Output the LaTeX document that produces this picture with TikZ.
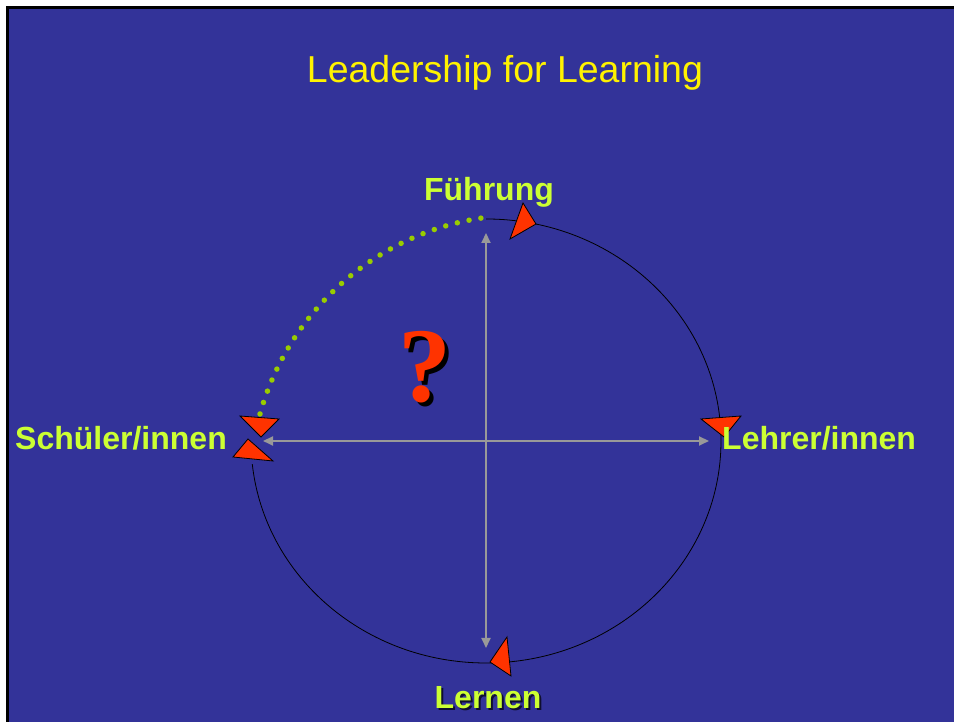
\documentclass[tikz,border=0pt]{standalone}
\usepackage{fontspec}
\setmainfont{Liberation Sans}
\newfontfamily\serifq{Liberation Serif}
\usetikzlibrary{arrows.meta}
\definecolor{slideblue}{HTML}{333399}
\definecolor{labelgreen}{HTML}{CCFF33}
\definecolor{dotgreen}{HTML}{99CC00}
\definecolor{redtri}{HTML}{FF3300}
\definecolor{axisgray}{HTML}{999999}
\newcommand{\shadowtext}[3]{\rlap{\hspace{#1}\raisebox{-#1}{\color{#2}#3}}#3}
\tikzset{
  lbl/.style={text=labelgreen, font=\fontsize{32}{38}\selectfont\bfseries, inner sep=0pt},
  tri/.style={fill=redtri, draw=black, line width=0.8pt, line join=miter},
  axis/.style={draw=axisgray, line width=2pt, {Triangle[length=10pt,width=9pt]}-{Triangle[length=10pt,width=9pt]}},
}
\begin{document}
\begin{tikzpicture}[x=1pt,y=1pt]
\useasboundingbox (0,0) rectangle (954,722);
\begin{scope}
\clip (0,0) rectangle (954,722);
\fill[white] (0,0) rectangle (954,722);
\draw[fill=slideblue, draw=black, line width=3pt] (7.5,-10) rectangle (970,714.5);
\end{scope}

% title
\node[text=yellow, font=\fontsize{37.5}{44}\selectfont, inner sep=0pt, anchor=base] (title) at (505,639) {Leadership for Learning};

% centre and key points
\coordinate (c) at (486,281);
\coordinate (topstart) at (486,503);

% black circle arc
\draw[black, line width=0.8pt] (topstart) arc[start angle=90, end angle=-174, x radius=235, y radius=222];

% green dotted arc
\coordinate (dc) at (522,235);
\draw[dotgreen, line width=5.5pt, line cap=round, dash pattern=on 0pt off 12pt]
  ([shift={(98.7:272)}]dc) arc[start angle=98.7, end angle=164.6, radius=272];

% axes
\coordinate (axl) at (263,281);
\coordinate (axr) at (709,281);
\coordinate (axt) at (486,489);
\coordinate (axb) at (486,74);
\draw[axis] (axl) -- (axr);
\draw[axis] (axt) -- (axb);

% red triangles
\draw[tri] (523,519) -- (536,498) -- (510,483) -- cycle;
\draw[tri] (701,303) -- (741,306) -- (724,285) -- cycle;
\draw[tri] (507,85) -- (490,60) -- (511,46) -- cycle;
\draw[tri] (240,306) -- (279,303) -- (261,285) -- cycle;
\draw[tri] (248,283) -- (233,265) -- (273,261) -- cycle;

% question mark with shadow
\node[text=redtri, font=\serifq\fontsize{106}{110}\selectfont\bfseries, inner sep=0pt, anchor=base] (q) at (425,320) {\rlap{\hspace{4pt}\raisebox{-3.5pt}{\color{black}?}}?};

% labels
\node[lbl, anchor=base] (fuehrung) at (489,521) {Führung};
\node[lbl, anchor=base west] (schueler) at (15,272) {Schüler/innen};
\node[lbl, anchor=base west] (lehrer) at (722,272) {Lehrer/innen};
\node[lbl, anchor=base] (lernen) at (488,13) {\rlap{\hspace{2pt}\raisebox{-2pt}{\color{black!70!slideblue}Lernen}}Lernen};
\end{tikzpicture}
\end{document}
